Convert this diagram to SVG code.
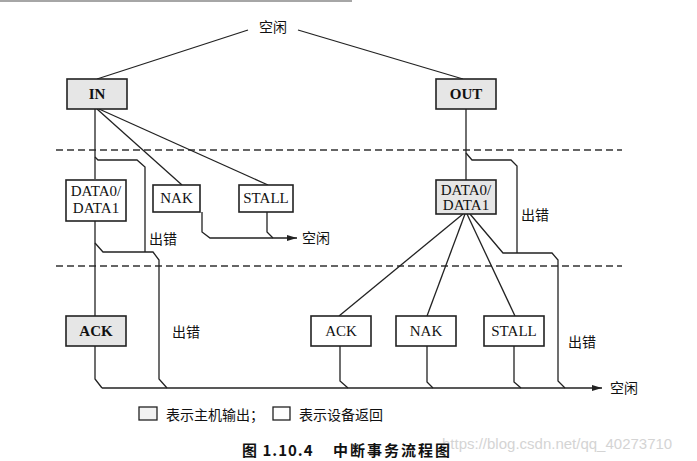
<svg xmlns="http://www.w3.org/2000/svg" width="697" height="461" viewBox="0 0 697 461">
<defs>
<style>
.bx{stroke:#222;stroke-width:1.6}
.host{fill:#e6e6e6}
.dev{fill:#ffffff}
.lbl{font-family:"Liberation Serif","Times New Roman",serif;font-size:15px;fill:#111;text-anchor:middle}
.b{font-weight:bold}
.cn{font-family:"Noto Sans CJK SC",sans-serif;font-size:14px;fill:#111}
.ln{fill:none;stroke:#222;stroke-width:1.3;stroke-linejoin:miter}
.dash{fill:none;stroke:#333;stroke-width:1.3;stroke-dasharray:7 4}
</style>
<marker id="arr" viewBox="0 0 10 6" refX="10" refY="3" markerWidth="10" markerHeight="6" markerUnits="userSpaceOnUse" orient="auto">
<path d="M0,0 L10,3 L0,6 Z" fill="#222"/>
</marker>
</defs>
<rect width="697" height="461" fill="#fff"/>
<line x1="0" y1="1" x2="352" y2="1" stroke="#888" stroke-width="1.5"/>

<g id="dashes">
<line class="dash" x1="56" y1="150" x2="622" y2="150"/>
<line class="dash" x1="56" y1="266" x2="622" y2="266"/>
</g>

<g id="connectors">
<path class="ln" d="M248,30 L97,79"/>
<path class="ln" d="M298,30 L463,79"/>
<!-- IN side -->
<path class="ln" d="M95,109 L95,179"/>
<path class="ln" d="M97,109 L182,185"/>
<path class="ln" d="M99,109 L268,185"/>
<path class="ln" d="M95,157 L98,160 L137,160 L145,167 L145,252"/>
<path class="ln" d="M95,220 L95,316"/>
<path class="ln" d="M95,243 L103,252 L153,252 L159,260 L159,379 L167,388"/>
<path class="ln" d="M95,346 L95,379 L102,388"/>
<path class="ln" d="M202,212 L202,232 L210,238 L297,238" marker-end="url(#arr)"/>
<path class="ln" d="M267,212 L267,232 L273,238"/>
<!-- OUT side -->
<path class="ln" d="M466,109 L466,180"/>
<path class="ln" d="M466,153 L472,160 L511,160 L517,166 L517,253"/>
<path class="ln" d="M463,214 L339,316"/>
<path class="ln" d="M465,214 L427,316"/>
<path class="ln" d="M467,214 L515,316"/>
<path class="ln" d="M470,214 L503,253 L552,253 L558,260 L558,381 L565,388"/>
<path class="ln" d="M340,346 L340,381 L348,388"/>
<path class="ln" d="M427,346 L427,382 L433,388"/>
<path class="ln" d="M514,346 L514,382 L521,388"/>
<path class="ln" d="M102,388 L602,388" marker-end="url(#arr)"/>
</g>

<g id="idle-top"><text class="cn" x="273" y="32" text-anchor="middle" font-size="15">空闲</text></g>

<g id="node-in">
<rect class="bx host" x="67" y="79" width="60" height="30"/>
<text class="lbl b" x="97" y="99">IN</text>
</g>
<g id="node-out">
<rect class="bx host" x="436" y="79" width="60" height="30"/>
<text class="lbl b" x="466" y="99">OUT</text>
</g>
<g id="node-data-in">
<rect class="bx dev" x="66" y="180" width="60" height="41"/>
<text class="lbl" x="96" y="196">DATA0/</text>
<text class="lbl" x="96" y="213">DATA1</text>
</g>
<g id="node-nak-in">
<rect class="bx dev" x="153" y="185" width="47" height="27"/>
<text class="lbl" x="176.5" y="203">NAK</text>
</g>
<g id="node-stall-in">
<rect class="bx dev" x="239" y="185" width="54" height="27"/>
<text class="lbl" x="266" y="203">STALL</text>
</g>
<g id="node-ack-in">
<rect class="bx host" x="66" y="316" width="60" height="30"/>
<text class="lbl b" x="96" y="336">ACK</text>
</g>
<g id="node-data-out">
<rect class="bx host" x="436" y="180" width="60" height="34"/>
<text class="lbl" x="466" y="195">DATA0/</text>
<text class="lbl" x="466" y="210">DATA1</text>
</g>
<g id="node-ack-out">
<rect class="bx dev" x="311" y="316" width="60" height="30"/>
<text class="lbl" x="341" y="336">ACK</text>
</g>
<g id="node-nak-out">
<rect class="bx dev" x="396" y="316" width="60" height="30"/>
<text class="lbl" x="426" y="336">NAK</text>
</g>
<g id="node-stall-out">
<rect class="bx dev" x="484" y="316" width="60" height="30"/>
<text class="lbl" x="514" y="336">STALL</text>
</g>

<g id="labels">
<text class="cn" x="302" y="243">空闲</text>
<text class="cn" x="610" y="393">空闲</text>
<text class="cn" x="149" y="244">出错</text>
<text class="cn" x="172" y="337">出错</text>
<text class="cn" x="521" y="220">出错</text>
<text class="cn" x="568" y="347">出错</text>
</g>

<g id="legend">
<rect x="139" y="407" width="18" height="13" fill="#f2f2f2" stroke="#222" stroke-width="1.3"/>
<text class="cn" x="166" y="420" font-size="15">表示主机输出；</text>
<rect x="273" y="407" width="17" height="13" fill="#fff" stroke="#222" stroke-width="1.3"/>
<text class="cn" x="299" y="420" font-size="15">表示设备返回</text>
</g>

<text x="442" y="449" font-family="Liberation Sans, Arial, sans-serif" font-size="15" fill="#d4d4d4">https://blog.csdn.net/qq_40273710</text>
<g id="caption" font-family="Noto Sans CJK SC, sans-serif" font-size="15" font-weight="bold" fill="#111">
<text x="242" y="456" letter-spacing="1">图 1.10.4</text>
<text x="333" y="456" letter-spacing="2">中断事务流程图</text>
</g>
</svg>
